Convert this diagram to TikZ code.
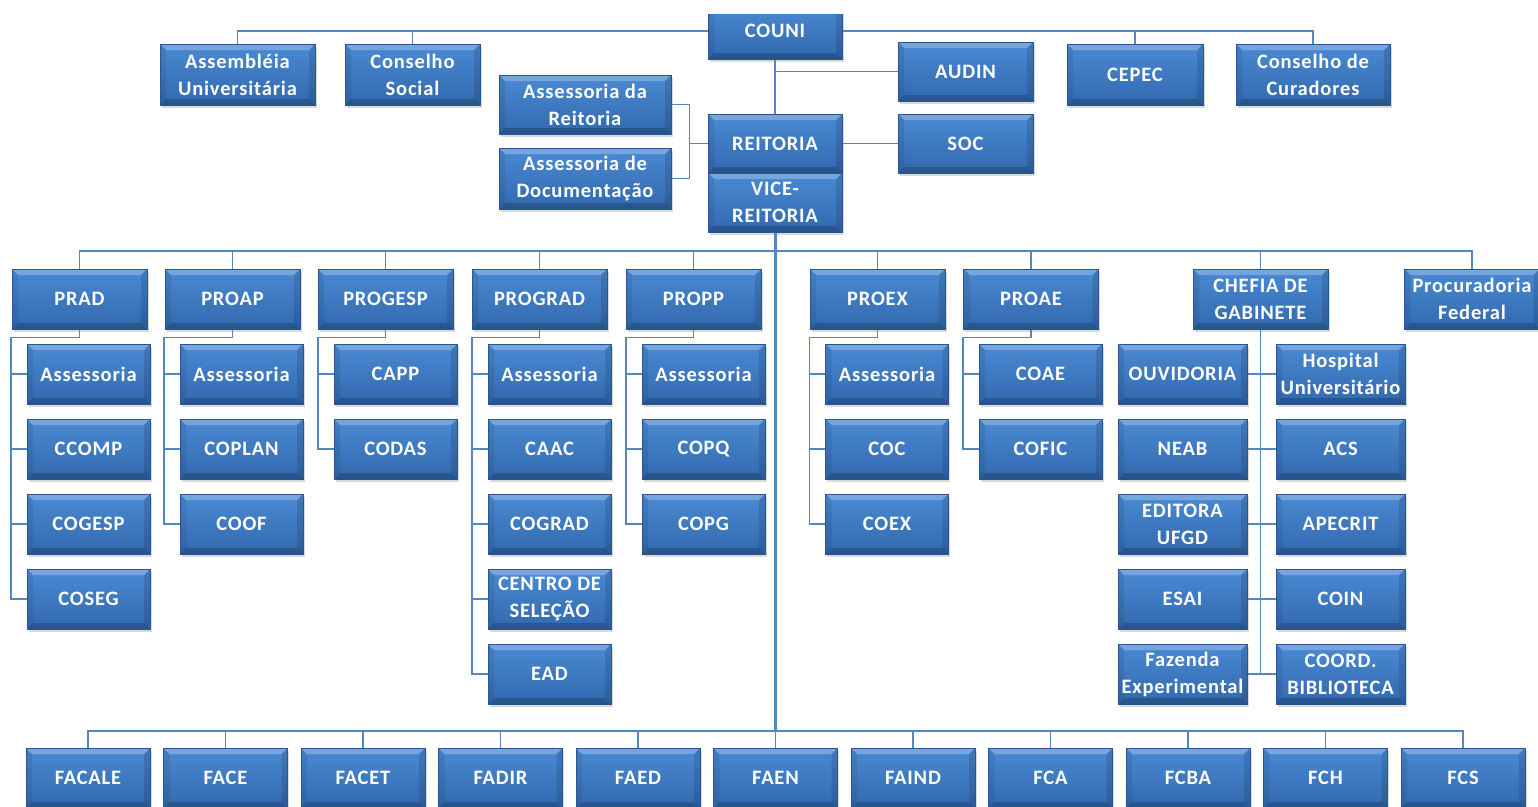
\documentclass[tikz,border=0pt]{standalone}
\usepackage{fontspec}
\setmainfont{Carlito}[LetterSpace=4]
\usepackage{tikz}
\usetikzlibrary{shadows,backgrounds}

\definecolor{boxtop}{RGB}{74,138,212}
\definecolor{boxbottom}{RGB}{50,105,174}
\definecolor{boxline}{RGB}{42,86,144}
\definecolor{linkblue}{RGB}{84,134,194}

\tikzset{
  unit/.style={rectangle, top color=boxtop, bottom color=boxbottom, draw=boxline, line width=0.6pt,
    drop shadow={shadow xshift=1.5pt, shadow yshift=-2.5pt, opacity=0.3},
    path picture={
      \fill[white, opacity=0.25] (path picture bounding box.north west) -- (path picture bounding box.north east)
        -- ([xshift=-6pt,yshift=-6pt]path picture bounding box.north east) -- ([xshift=6pt,yshift=-6pt]path picture bounding box.north west) -- cycle;
      \fill[black, opacity=0.2] (path picture bounding box.south west) -- (path picture bounding box.south east)
        -- ([xshift=-6pt,yshift=6pt]path picture bounding box.south east) -- ([xshift=6pt,yshift=6pt]path picture bounding box.south west) -- cycle;
      \fill[black, opacity=0.08] (path picture bounding box.north west) -- ([xshift=6pt,yshift=-6pt]path picture bounding box.north west)
        -- ([xshift=6pt,yshift=6pt]path picture bounding box.south west) -- (path picture bounding box.south west) -- cycle;
      \fill[black, opacity=0.12] (path picture bounding box.north east) -- ([xshift=-6pt,yshift=-6pt]path picture bounding box.north east)
        -- ([xshift=-6pt,yshift=6pt]path picture bounding box.south east) -- (path picture bounding box.south east) -- cycle;
    },
    text=white, font=\bfseries\fontsize{20.5}{27}\selectfont, align=center, inner sep=0pt,
    minimum width=135pt, minimum height=60pt},
  sub/.style={unit, minimum width=123pt},
  fac/.style={unit, minimum width=124pt},
  link/.style={draw=linkblue, line width=1.5pt},
  trunk/.style={link, line width=3pt}
}

\begin{document}
\begin{tikzpicture}[x=1pt, y=-1pt]
\useasboundingbox (0,0) rectangle (1538,806);
\begin{scope}
\clip (0,14) rectangle (1538,806);

% conselhos e reitoria
\node[unit, minimum width=134pt, minimum height=56pt] (couni) at (775,31) {COUNI};
\node[unit, minimum width=155pt, minimum height=61pt] (assemb) at (237.5,74.5) {Assembléia\\Universitária};
\node[unit, minimum height=61pt] (social) at (412.5,74.5) {Conselho\\Social};
\node[unit, minimum width=136pt, minimum height=61pt] (cepec) at (1135,74.5) {CEPEC};
\node[unit, minimum width=154pt, minimum height=61pt] (curad) at (1313,74.5) {Conselho de\\Curadores};
\node[unit, minimum height=59pt] (audin) at (965.5,71.5) {AUDIN};
\node[unit, minimum height=59pt] (soc) at (965.5,143.5) {SOC};
\node[unit, minimum width=172pt, minimum height=59pt] (asreit) at (585,104.5) {Assessoria da\\Reitoria};
\node[unit, minimum width=172pt, minimum height=61pt] (asdoc) at (585,178.5) {Assessoria de\\Documentação};
\node[unit, minimum width=134pt, minimum height=59pt] (reit) at (775,143.5) {REITORIA};
\node[unit, minimum width=134pt, minimum height=59pt] (vice) at (775,202.5) {VICE-\\REITORIA};

% pro-reitorias
\coordinate (tier2) at (775,251);
\node[unit] (prad) at (79.5,299) {PRAD};
\node[unit] (proap) at (232.5,299) {PROAP};
\node[unit] (progesp) at (385.5,299) {PROGESP};
\node[unit] (prograd) at (539.5,299) {PROGRAD};
\node[unit] (propp) at (693.5,299) {PROPP};
\node[unit] (proex) at (877.5,299) {PROEX};
\node[unit] (proae) at (1031,299) {PROAE};
\node[unit] (chefia) at (1260.5,299) {CHEFIA DE\\GABINETE};
\node[unit] (procur) at (1472,299) {Procuradoria\\Federal};

% coordenadorias
\node[sub] (pradA) at (88.5,374) {Assessoria};
\node[sub] (pradB) at (88.5,449) {CCOMP};
\node[sub] (pradC) at (88.5,524) {COGESP};
\node[sub] (pradD) at (88.5,599) {COSEG};
\node[sub] (proapA) at (241.5,374) {Assessoria};
\node[sub] (proapB) at (241.5,449) {COPLAN};
\node[sub] (proapC) at (241.5,524) {COOF};
\node[sub] (progespA) at (395.5,374) {CAPP};
\node[sub] (progespB) at (395.5,449) {CODAS};
\node[sub] (progradA) at (549.5,374) {Assessoria};
\node[sub] (progradB) at (549.5,449) {CAAC};
\node[sub] (progradC) at (549.5,524) {COGRAD};
\node[sub] (progradD) at (549.5,599) {CENTRO DE\\SELEÇÃO};
\node[sub] (progradE) at (549.5,674) {EAD};
\node[sub] (proppA) at (703.5,374) {Assessoria};
\node[sub] (proppB) at (703.5,449) {COPQ};
\node[sub] (proppC) at (703.5,524) {COPG};
\node[sub] (proexA) at (887,374) {Assessoria};
\node[sub] (proexB) at (887,449) {COC};
\node[sub] (proexC) at (887,524) {COEX};
\node[sub] (proaeA) at (1040.5,374) {COAE};
\node[sub] (proaeB) at (1040.5,449) {COFIC};

% gabinete
\node[sub, minimum width=129pt] (ouvid) at (1182.5,374) {OUVIDORIA};
\node[sub, minimum width=129pt] (neab) at (1182.5,449) {NEAB};
\node[sub, minimum width=129pt] (editora) at (1182.5,524) {EDITORA\\UFGD};
\node[sub, minimum width=129pt] (esai) at (1182.5,599) {ESAI};
\node[sub, minimum width=129pt] (fazenda) at (1182.5,674) {Fazenda\\Experimental};
\node[sub, minimum width=129pt] (hosp) at (1340.5,374) {Hospital\\Universitário};
\node[sub, minimum width=129pt] (acs) at (1340.5,449) {ACS};
\node[sub, minimum width=129pt] (apecrit) at (1340.5,524) {APECRIT};
\node[sub, minimum width=129pt] (coin) at (1340.5,599) {COIN};
\node[sub, minimum width=129pt] (biblio) at (1340.5,674) {COORD.\\BIBLIOTECA};

% faculdades
\coordinate (tier3) at (775,731);
\foreach \fac [count=\i from 0] in {FACALE,FACE,FACET,FADIR,FAED,FAEN,FAIND,FCA,FCBA,FCH,FCS}
  \node[fac] (\fac) at ({88+137.5*\i},778) {\fac};
\end{scope}

\begin{scope}[on background layer]
\draw[link] (assemb.north) |- (couni) -| (curad.north);
\draw[link] (social.north) |- (couni);
\draw[link] (cepec.north) |- (couni);
\draw[link] (couni) -- (reit);
\draw[link] (audin.west) -- (audin.west -| couni);
\draw[link] (reit) -- (soc);
\draw[link] (asreit.east) -| ([xshift=-18pt]reit.west) |- (asdoc.east);
\draw[link] (reit.west) -- ([xshift=-18pt]reit.west);
\draw[trunk] (vice.south) -- (tier3);
\draw[link] (prad.north) |- (tier2) -| (procur.north);
\foreach \p in {proap,progesp,prograd,propp,proex,proae,chefia}
  \draw[link] (\p.north) |- (tier2);
\draw[link] (FACALE.north) |- (tier3) -| (FCS.north);
\foreach \fac in {FACE,FACET,FADIR,FAED,FAEN,FAIND,FCA,FCBA,FCH}
  \draw[link] (\fac.north) |- (tier3);
% ramos das pro-reitorias
\foreach \s in {pradA,pradB,pradC,pradD}
  \draw[link] (prad.south) -- ++(0,8) -| ([xshift=-15.5pt]\s.west) -- (\s.west);
\foreach \s in {proapA,proapB,proapC}
  \draw[link] (proap.south) -- ++(0,8) -| ([xshift=-15.5pt]\s.west) -- (\s.west);
\foreach \s in {progespA,progespB}
  \draw[link] (progesp.south) -- ++(0,8) -| ([xshift=-15.5pt]\s.west) -- (\s.west);
\foreach \s in {progradA,progradB,progradC,progradD,progradE}
  \draw[link] (prograd.south) -- ++(0,8) -| ([xshift=-15.5pt]\s.west) -- (\s.west);
\foreach \s in {proppA,proppB,proppC}
  \draw[link] (propp.south) -- ++(0,8) -| ([xshift=-15.5pt]\s.west) -- (\s.west);
\foreach \s in {proexA,proexB,proexC}
  \draw[link] (proex.south) -- ++(0,8) -| ([xshift=-15.5pt]\s.west) -- (\s.west);
\foreach \s in {proaeA,proaeB}
  \draw[link] (proae.south) -- ++(0,8) -| ([xshift=-15.5pt]\s.west) -- (\s.west);
\draw[link] (chefia.south) -- (chefia.south |- fazenda.east);
\foreach \l/\r in {ouvid/hosp,neab/acs,editora/apecrit,esai/coin,fazenda/biblio}
  \draw[link] (\l.east) -- (\r.west);
\end{scope}
\end{tikzpicture}
\end{document}
